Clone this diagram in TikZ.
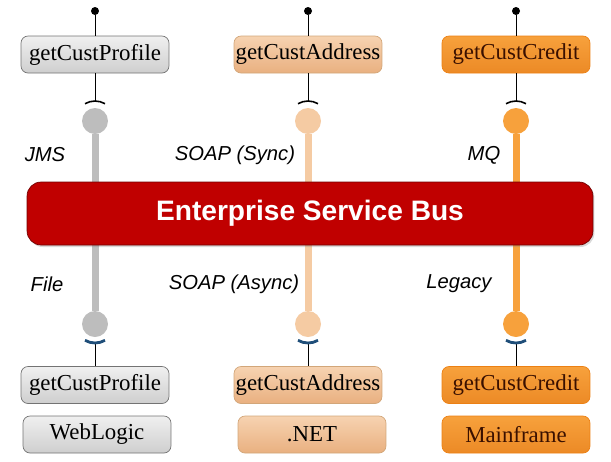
\documentclass[tikz,border=0pt]{standalone}
\usepackage{fontspec}
\setmainfont{Liberation Serif}
\setsansfont{Liberation Sans}
\usetikzlibrary{shadows}

\definecolor{busred}{HTML}{C00000}
\definecolor{stemgray}{HTML}{BDBDBD}
\definecolor{stempeach}{HTML}{F5CBA3}
\definecolor{stemorange}{HTML}{F7A13C}
\definecolor{cupblue}{HTML}{1F4E79}
\definecolor{peachlow}{HTML}{E9B080}
\definecolor{orangelow}{HTML}{EC8A26}
\definecolor{darkbrown}{HTML}{3A1000}

\tikzset{
 svc/.style={rounded corners=4, minimum width=2.96cm, minimum height=0.74cm,
   inner sep=0pt, font=\fontsize{13}{15}\selectfont},
 grayBox/.style={svc, draw=gray!90!black, top color=gray!12, bottom color=gray!38},
 peachBox/.style={svc, draw=brown!70, top color=stempeach!85, bottom color=peachlow},
 orangeBox/.style={svc, draw=orange!70!brown, top color=stemorange, bottom color=orangelow, text=darkbrown},
 pin/.style={circle, fill=black, minimum size=0.16cm, inner sep=0pt},
 ball/.style={circle, fill=#1, minimum size=0.52cm, inner sep=0pt},
 lbl/.style={font=\sffamily\itshape\fontsize{11.5}{13}\selectfont},
 bus/.style={rounded corners=8, fill=busred, draw=busred!60!black, text=white,
   minimum width=11.32cm, minimum height=1.26cm,
   font=\sffamily\bfseries\fontsize{16}{19}\selectfont,
   drop shadow={opacity=0.3, shadow xshift=0.03cm, shadow yshift=-0.04cm}},
}

\begin{document}
\begin{tikzpicture}[x=0.02cm,y=-0.02cm]
\useasboundingbox (0,0) rectangle (611,461);

% consumers
\node (P1) at (95,54.5) [grayBox]{getCustProfile};
\node (P2) at (308,54.5) [peachBox]{getCustAddress};
\node (P3) at (516,54.5) [orangeBox]{getCustCredit};

\node (T1) at (95,11) [pin]{};
\node (T2) at (308,11) [pin]{};
\node (T3) at (516,11) [pin]{};

\draw (T1)--(P1);
\draw (T2)--(P2);
\draw (T3)--(P3);

\coordinate (B1) at (95,101);
\coordinate (B2) at (308,101);
\coordinate (B3) at (516,101);

\draw (P1)--(B1);
\draw (P2)--(B2);
\draw (P3)--(B3);

\draw[line width=0.9pt] ([xshift=-0.2cm,yshift=-0.054cm]B1) arc[start angle=120,end angle=60,radius=0.4cm];
\draw[line width=0.9pt] ([xshift=-0.2cm,yshift=-0.054cm]B2) arc[start angle=120,end angle=60,radius=0.4cm];
\draw[line width=0.9pt] ([xshift=-0.2cm,yshift=-0.054cm]B3) arc[start angle=120,end angle=60,radius=0.4cm];

% balls and stems
\node (U1) at (95,121) [ball=stemgray]{};
\node (U2) at (308,121) [ball=stempeach]{};
\node (U3) at (516,121) [ball=stemorange]{};
\node (L1) at (95,324) [ball=stemgray]{};
\node (L2) at (308,324) [ball=stempeach]{};
\node (L3) at (516,324) [ball=stemorange]{};

\draw[line width=0.14cm, stemgray] (U1)--(L1);
\draw[line width=0.14cm, stempeach] (U2)--(L2);
\draw[line width=0.14cm, stemorange] (U3)--(L3);

% bus
\node (esb) at (310,213.5) [bus]{Enterprise Service Bus};

\node (jms) at (45,155) [lbl]{JMS};
\node (sync) at (235,155) [lbl]{SOAP (Sync)};
\node (mq) at (484,155) [lbl]{MQ};
\node (file) at (47,284) [lbl]{File};
\node (async) at (234,284) [lbl]{SOAP (Async)};
\node (legacy) at (459,284) [lbl]{Legacy};

% providers
\node (M1) at (95,385) [grayBox]{getCustProfile};
\node (M2) at (308,385) [peachBox]{getCustAddress};
\node (M3) at (516,385) [orangeBox]{getCustCredit};

\node (S1) at (97,434.5) [grayBox]{WebLogic};
\node (S2) at (312,434.5) [peachBox]{.NET};
\node (S3) at (516,434.5) [orangeBox]{Mainframe};

\coordinate (C1) at (95,343);
\coordinate (C2) at (308,343);
\coordinate (C3) at (516,343);

\draw (C1)--(M1);
\draw (C2)--(M2);
\draw (C3)--(M3);

\draw[line width=1.6pt, cupblue] ([xshift=-0.2cm,yshift=0.054cm]C1) arc[start angle=240,end angle=300,radius=0.4cm];
\draw[line width=1.6pt, cupblue] ([xshift=-0.2cm,yshift=0.054cm]C2) arc[start angle=240,end angle=300,radius=0.4cm];
\draw[line width=1.6pt, cupblue] ([xshift=-0.2cm,yshift=0.054cm]C3) arc[start angle=240,end angle=300,radius=0.4cm];

\end{tikzpicture}
\end{document}
